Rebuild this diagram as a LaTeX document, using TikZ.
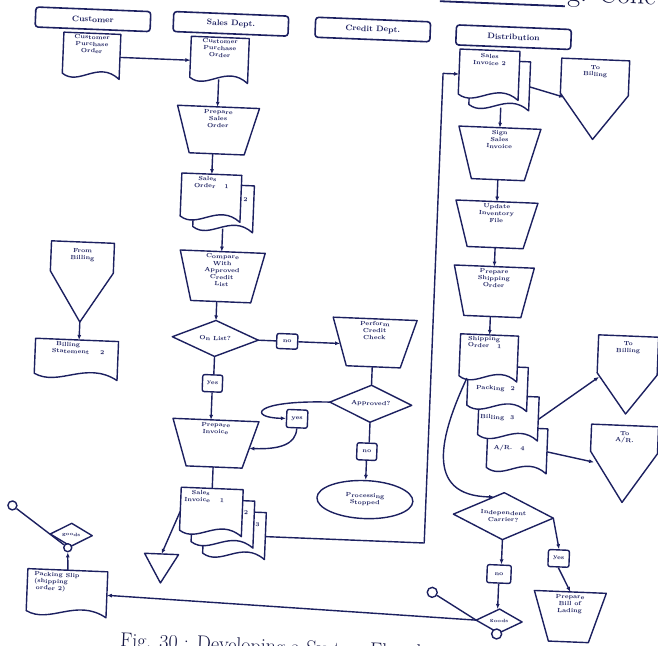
\documentclass[tikz,border=0pt]{standalone}
\usetikzlibrary{arrows.meta,calc,shapes.geometric}
\definecolor{ink}{RGB}{28,32,96}

\tikzset{
  ln/.style={draw=ink,line width=1.4pt,line join=round},
  arr/.style={ln,-{Latex[length=5pt,width=4pt]}},
  txt/.style={text=ink,font=\fontsize{6}{6.9}\selectfont\bfseries,align=center,inner sep=1.5pt},
  lbl/.style={txt,anchor=north,inner sep=2.5pt},
  small/.style={font=\fontsize{4.8}{5}\selectfont\bfseries},
  bx/.style 2 args={minimum width=#1,minimum height=#2,inner sep=0pt,outer sep=0pt},
  yn/.style 2 args={ln,txt,rounded corners=2pt,minimum width=#1,minimum height=#2,inner sep=0pt},
  hdr/.style={ln,line width=1.6pt,rounded corners=3pt,minimum width=115,minimum height=20,
    inner sep=0pt,text=ink,font=\fontsize{8}{9}\selectfont\bfseries},
  dot/.style={ln,circle,inner sep=0pt,fill=white}
}

% document symbol with a wavy lower edge (filled, so copies can stack)
\newcommand\docshape[1]{%
  \draw[ln,fill=white] ($(#1.south west)+(0,-5)$) -- (#1.north west) -- (#1.north east)
    -- ($(#1.south east)+(0,-1)$)
    .. controls ($(#1.south west)!0.62!(#1.south east)+(0,-20)$)
           and ($(#1.south west)!0.3!(#1.south east)+(0,8)$)
    .. ($(#1.south west)+(0,-5)$) -- cycle;}
% manual operation: wide top, narrow bottom
\newcommand\trapshape[2]{%
  \draw[ln] (#1.north west) -- (#1.north east) -- ($(#1.south east)+(-#2,0)$)
    -- ($(#1.south west)+(#2,0)$) -- cycle;}
% off-page connector
\newcommand\pentshape[2]{%
  \draw[ln] (#1.north west) -- (#1.north east) -- ($(#1.north east)+(0,#2)$)
    -- (#1.south) -- ($(#1.north west)+(0,#2)$) -- cycle;}
\newcommand\diashape[1]{%
  \draw[ln] (#1.north) -- (#1.east) -- (#1.south) -- (#1.west) -- cycle;}
\newcommand\trishape[1]{%
  \draw[ln] (#1.north west) -- (#1.north east) -- (#1.south) -- cycle;}

\begin{document}
\begin{tikzpicture}[x=1pt,y=-1pt]
\useasboundingbox (0,0) rectangle (658,645);
\fill[white] (0,0) rectangle (658,645);

\begin{scope}[transform canvas={rotate around={-2.3:(329pt,-322pt)}}]

% running head of the page
\draw[ink,line width=1.8pt] (427,-3) -- (552,-3);
\node[anchor=base west,text=ink!70!black,font=\fontsize{28}{28}\selectfont,inner sep=0pt] (run) at (554,-8) {g. Conc};

% column headings
\node[hdr] (hcust) at (81,29) {Customer};
\node[hdr] (hsales) at (219,28) {Sales Dept.};
\node[hdr] (hcredit) at (361,28) {Credit Dept.};
\node[hdr] (hdist) at (502,30) {Distribution};

% ---- nodes
\node[bx={57}{46}] (cpo1) at (81,66) {};
\node[bx={58}{46}] (cpo2) at (209,65) {};
\node[bx={82}{47},label={[lbl]north:Prepare\\Sales\\Order}] (pso) at (210,135) {};
\node[bx={60}{48}] (so2) at (219,213) {};
\node[bx={60}{48}] (so) at (206,203) {};
\node[bx={85}{50},label={[lbl]north:Compare\\With\\Approved\\Credit\\List}] (cmp) at (220,281) {};
\node[bx={86}{36},txt] (onlist) at (216,343) {On List?};
\node[yn={21}{15}] (no1) at (288,343) {no};
\node[bx={84}{48},label={[lbl]north:Perform\\Credit\\Check}] (pcc) at (375,341) {};
\node[bx={82}{37},txt] (appr) at (374,402) {Approved?};
\node[yn={20}{17}] (no2) at (372,450) {no};
\node[ln,txt,ellipse,minimum width=96,minimum height=38,inner sep=0pt] (stop) at (372,498) {Processing\\Stopped};
\node[yn={20}{17}] (yes1) at (215,388) {yes};
\node[bx={86}{47},label={[lbl]north:Prepare\\Invoice}] (pinv) at (220,448) {};
\node[yn={21}{18}] (yes2) at (301,420) {yes};
\node[bx={62}{48}] (sinv3) at (243,539) {};
\node[bx={62}{48}] (sinv2) at (231,528) {};
\node[bx={62}{48}] (sinv) at (219,517) {};
\node[bx={34}{29}] (tri) at (171,575) {};

\node[bx={63}{80},label={[lbl,yshift=-4pt]north:From\\Billing}] (fromb) at (80,292) {};
\node[bx={83}{40}] (bstmt) at (78,370) {};
\node[bx={80}{47}] (pslip) at (78,604) {};
\node[bx={42}{23},txt,small] (goods1) at (80,545) {goods};
\node[dot,minimum size=9] (q1) at (20,518) {};

\node[bx={60}{50}] (si2b) at (490,79) {};
\node[bx={60}{50}] (si2) at (479,69) {};
\node[bx={68}{80},label={[lbl,yshift=-3pt]north:To\\Billing}] (tob1) at (585,89) {};
\node[bx={82}{52},label={[lbl]north:Sign\\Sales\\Invoice}] (ssi) at (492,147) {};
\node[bx={82}{46},label={[lbl]north:Update\\Inventory\\File}] (uif) at (492,218) {};
\node[bx={80}{50},label={[lbl]north:Prepare\\Shipping\\Order}] (pso2) at (492,285) {};
\node[bx={60}{46}] (ar4) at (522,443) {};
\node[bx={60}{45}] (bl3) at (512,411) {};
\node[bx={60}{45}] (pk2) at (500,382) {};
\node[bx={58}{47}] (sh1) at (490,352) {};
\node[bx={60}{78},label={[lbl,yshift=-3pt]north:To\\Billing}] (tob2) at (629,363) {};
\node[bx={67}{77},label={[lbl,yshift=-3pt]north:To\\A/R.}] (toar) at (629,452) {};
\node[bx={100}{47},txt] (icarr) at (511,509) {Independent\\Carrier?};
\node[yn={24}{18}] (no3) at (509,567) {no};
\node[yn={21}{17}] (yes3) at (568,549) {yes};
\node[bx={72}{50},label={[lbl]north:Prepare\\Bill of\\Lading}] (pbl) at (581,607) {};
\node[bx={46}{24},txt,small] (goods2) at (511,614) {goods};
\node[dot,minimum size=10] (q2) at (443,588) {};

% ---- outlines
\trapshape{pso}{13.5}
\trapshape{cmp}{12.5}
\trapshape{pcc}{15}
\trapshape{pinv}{15}
\trapshape{ssi}{14.5}
\trapshape{uif}{13}
\trapshape{pso2}{11.5}
\trapshape{pbl}{16}
\diashape{onlist}
\diashape{appr}
\diashape{icarr}
\diashape{goods1}
\diashape{goods2}
\pentshape{fromb}{30}
\pentshape{tob1}{35}
\pentshape{tob2}{38}
\pentshape{toar}{27}
\trishape{tri}
\docshape{cpo1}
\docshape{cpo2}
\docshape{so2}
\docshape{so}
\docshape{sinv3}
\docshape{sinv2}
\docshape{sinv}
\docshape{bstmt}
\docshape{pslip}
\docshape{si2b}
\docshape{si2}
\docshape{ar4}
\docshape{bl3}
\docshape{pk2}
\docshape{sh1}

\node[dot,minimum size=8] (gc1) at (77,558) {};
\node[dot,minimum size=10] (gc2) at (509,627) {};

% ---- document texts
\node[txt,anchor=north] (cpo1-t) at (cpo1.north) {Customer\\Purchase\\Order};
\node[txt,anchor=north] (cpo2-t) at (cpo2.north) {Customer\\Purchase\\Order};
\node[txt,anchor=north west,align=left] (so-t) at ($(so.north west)+(11,1)$) {\hspace*{4pt}Sales\\Order\hspace{9pt}1};
\node[txt,anchor=west] (so2-t) at ($(so.north east)+(1,24)$) {2};
\node[txt,anchor=north west,align=left] (sinv-t) at ($(sinv.north west)+(2,1)$) {\hspace*{7pt}Sales\\Invoice\hspace{10pt}1};
\node[txt,anchor=west] (sinv2-t) at ($(sinv.north east)+(0,23)$) {2};
\node[txt,anchor=west] (sinv3-t) at ($(sinv2.north east)+(0,23)$) {3};
\node[txt,anchor=north west,align=left] (bstmt-t) at ($(bstmt.north west)+(15,1)$) {\hspace*{4pt}Billing\\Statement\hspace{11pt}2};
\node[txt,anchor=north west,align=left] (pslip-t) at ($(pslip.north west)+(5,1)$) {Packing Slip\\(shipping\\\hspace*{2pt}order 2)};
\node[txt,anchor=north] (si2-t) at ($(si2.north)+(0,2)$) {Sales\\Invoice 2};
\node[txt,anchor=north west,align=left] (sh1-t) at ($(sh1.north west)+(6,0)$) {Shipping\\Order\hspace{8pt}1};
\node[txt] (pk2-t) at ($(pk2.center)+(-2,0)$) {Packing\hspace{6pt}2};
\node[txt] (bl3-t) at ($(bl3.center)+(-11,0)$) {Billing\hspace{6pt}3};
\node[txt] (ar4-t) at ($(ar4.center)+(-8,-2)$) {A/R.\hspace{8pt}4};

% ---- connectors: sales and credit
\draw[arr] (cpo1.east) -- (cpo1.east -| cpo2.west);
\coordinate (cpo2b) at ($(cpo2.south)+(0,-4)$);
\draw[arr] (cpo2b) -- (cpo2b |- pso.north);
\draw[arr] (pso.south -| so.north) -- (so.north);
\coordinate (so2b) at ($(so2.south)+(0,-4)$);
\draw[arr] (so2b) -- (so2b |- cmp.north);
\draw[arr] (cmp.south -| onlist.north) -- (onlist.north);
\draw[ln] (onlist.east) -- (no1.west);
\coordinate (pccL) at ($(pcc.north west)+(8,26)$);
\draw[arr] (no1.east) -- (pccL);
\draw[ln] (onlist.south) -- (onlist.south |- yes1.north);
\draw[arr] (yes1.south) -- (yes1.south |- pinv.north);
\draw[ln] (pcc.south -| appr.north) -- (appr.north);
\draw[ln] (appr.south) -- (appr.south |- no2.north);
\draw[arr] (no2.south) -- (no2.south |- stop.north);
\draw[arr] (appr.west) .. controls (255,403) and (252,421) .. (yes2.west);
\coordinate (pinvR) at ($(pinv.north east)+(-8.5,27)$);
\draw[arr] (yes2.south) .. controls ($(yes2.south)+(0,16)$) and ($(pinvR)+(30,0)$) .. (pinvR);
\draw[ln] (pinv.south -| sinv.north) -- (sinv.north);
\draw[arr] (sinv.west) -- (tri.north);
\coordinate (up1) at ($(si2.west)+(-16,0)$);
\draw[arr] (sinv3.east) -| (up1) -- (si2.west);

% ---- connectors: billing and packing slip
\draw[arr] (fromb.south) -- (fromb.south |- bstmt.north);
\draw[ln] (q1) -- (gc1);
\draw[arr] (pslip.north) -- (gc1);

% ---- connectors: distribution
\coordinate (tob1L) at ($(tob1.north west)+(4,39)$);
\draw[arr] (si2b.east) -- (tob1L);
\coordinate (si2bb) at ($(si2b.south)+(0,-3)$);
\draw[arr] (si2bb -| ssi.north) -- (ssi.north);
\draw[arr] (ssi.south) -- (uif.north);
\draw[arr] (uif.south) -- (pso2.north);
\draw[arr] (pso2.south -| sh1.north) -- (sh1.north);
\coordinate (tob2L) at ($(tob2.north west)+(2,42)$);
\draw[arr] (bl3.east) -- (tob2L);
\coordinate (toarL) at ($(toar.north west)+(4,38)$);
\draw[arr] (ar4.east) -- (toarL);
\coordinate (shS) at ($(sh1.south west)+(8,-3)$);
\coordinate (icTL) at ($(icarr.north)!0.2!(icarr.west)$);
\draw[arr] (shS) .. controls (445,430) and (430,492) .. (icTL);
\draw[arr] (icarr.south) -- (icarr.south |- no3.north);
\draw[arr] (no3.south) -- (no3.south |- goods2.north);
\draw[arr] (icarr.east) -- (yes3.north);
\draw[arr] (yes3.south) -- (pbl.north);
\draw[ln] (q2) -- (goods2.west);
\draw[arr] (goods2.west) -- (pslip.east);

% caption
\node[anchor=base west,text=ink!70!black,font=\fontsize{20}{20}\selectfont,inner sep=0pt] (cap) at (133,655) {Fig. 30 : Developing a System Flowchart};
\end{scope}
\end{tikzpicture}
\end{document}
